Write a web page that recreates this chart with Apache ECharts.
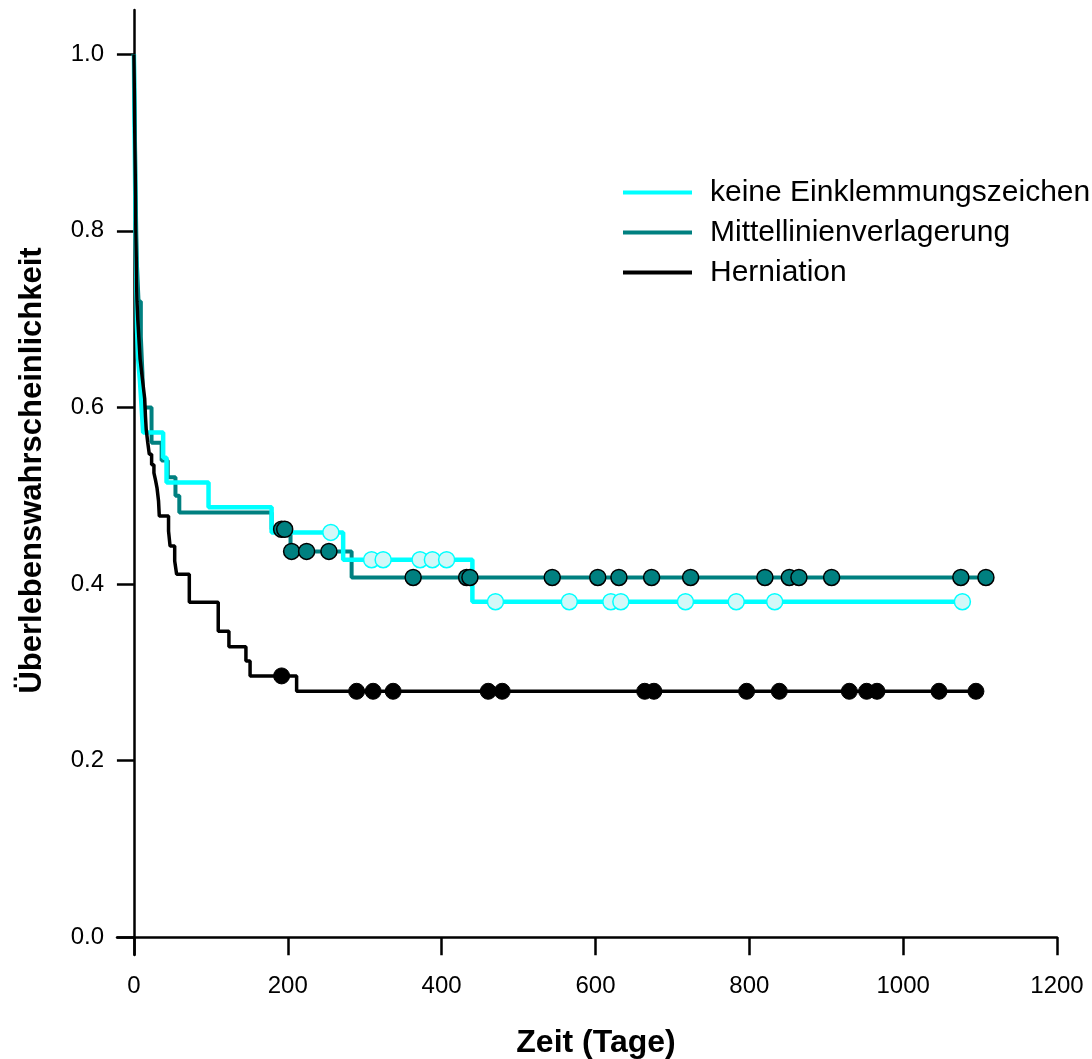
<!DOCTYPE html>
<html>
<head>
<meta charset="utf-8">
<script src="https://cdn.jsdelivr.net/npm/echarts@6/dist/echarts.min.js"></script>
<style>
html,body{margin:0;padding:0;background:#fff;}
#chart{width:1092px;height:1059px;}
</style>
</head>
<body>
<div id="chart"></div>
<script>
// ---- Data ----
var seriesNames = ['keine Einklemmungszeichen', 'Mittellinienverlagerung', 'Herniation'];

// keine Einklemmungszeichen (cyan) – Kaplan-Meier steps
var cyanTime = [0, 1, 2, 3, 4, 5.4, 7.8, 10, 12, 38, 42.4, 97, 179, 272, 440, 1077];
var cyanSurv = [1.0, 0.9, 0.82, 0.75, 0.69, 0.656, 0.63, 0.60, 0.5716, 0.543, 0.515, 0.487, 0.4585, 0.4276, 0.380, 0.380];
var cyanCensTime = [256, 309, 324, 372, 388, 406.5, 470, 566, 620, 633, 717, 783, 833, 1077];
var cyanCensSurv = [0.4585, 0.4276, 0.4276, 0.4276, 0.4276, 0.4276, 0.380, 0.380, 0.380, 0.380, 0.380, 0.380, 0.380, 0.380];

// Mittellinienverlagerung (teal)
var tealTime = [0, 1, 2, 3, 4, 6, 9, 11, 12, 22.9, 36, 44, 54, 59, 179, 203.6, 283, 1107.6];
var tealSurv = [1.0, 0.93, 0.86, 0.80, 0.76, 0.72, 0.68, 0.64, 0.60, 0.56, 0.54, 0.521, 0.50, 0.481, 0.462, 0.437, 0.4075, 0.4075];
var tealCensTime = [192, 196, 205, 224.5, 253.5, 363, 432.5, 436.8, 543.8, 603, 630.5, 673, 723.7, 820.3, 852, 864.5, 907, 1075, 1107.6];
var tealCensSurv = [0.462, 0.462, 0.437, 0.437, 0.437, 0.4075, 0.4075, 0.4075, 0.4075, 0.4075, 0.4075, 0.4075, 0.4075, 0.4075, 0.4075, 0.4075, 0.4075, 0.4075, 0.4075];

// Herniation (black)
var hernTime = [0, 0.5, 1, 1.5, 2, 2.5, 3, 3.5, 4, 5, 6, 7, 8, 10, 12, 14, 15, 16, 18, 20, 23, 26, 28, 30, 32, 33, 45, 47, 53, 55.5, 72, 109.6, 123.5, 145.6, 151, 211.5, 1095];
var hernSurv = [1.0, 0.96, 0.92, 0.88, 0.84, 0.80, 0.77, 0.74, 0.72, 0.70, 0.685, 0.67, 0.655, 0.64, 0.625, 0.61, 0.59, 0.575, 0.56, 0.547, 0.535, 0.526, 0.518, 0.509, 0.494, 0.477, 0.46, 0.443, 0.426, 0.411, 0.3795, 0.3465, 0.329, 0.313, 0.296, 0.2786, 0.2786];
var hernCensTime = [192, 289.5, 311, 337, 460.6, 478.8, 664, 676, 796.5, 839, 930, 952.5, 966, 1046.6, 1094.6];
var hernCensSurv = [0.296, 0.2786, 0.2786, 0.2786, 0.2786, 0.2786, 0.2786, 0.2786, 0.2786, 0.2786, 0.2786, 0.2786, 0.2786, 0.2786, 0.2786];

// Tick labels
var xTicks = [0, 200, 400, 600, 800, 1000, 1200];
var yTicks = [0, 0.2, 0.4, 0.6, 0.8, 1.0];
var xTitle = 'Zeit (Tage)';
var yTitle = 'Überlebenswahrscheinlichkeit';

function zip(a, b) { return a.map(function (v, i) { return [v, b[i]]; }); }

var FONT = '"Liberation Sans", Arial, Helvetica, sans-serif';
var chart = echarts.init(document.getElementById('chart'), null, { renderer: 'canvas' });

var option = {
  animation: false,
  backgroundColor: '#ffffff',
  textStyle: { fontFamily: FONT, color: '#000' },
  grid: { left: 117, right: 35, top: 10, bottom: 104, containLabel: false, outerBoundsMode: 'none' },
  xAxis: {
    type: 'value', min: -22, max: 1200,
    name: xTitle, nameLocation: 'middle', nameGap: 72,
    nameTextStyle: { fontFamily: FONT, fontSize: 32, fontWeight: 'bold', color: '#000', padding: [0, 0, 0, 18] },
    axisLine: { show: true, onZero: true, lineStyle: { color: '#000', width: 2.5 } },
    axisTick: { show: true, inside: false, length: 18, customValues: xTicks, lineStyle: { color: '#000', width: 2.5 } },
    axisLabel: { show: true, customValues: xTicks, margin: 19, fontSize: 24, color: '#000', fontFamily: FONT,
      formatter: function (v) { return String(Math.round(v)); } },
    splitLine: { show: false }
  },
  yAxis: {
    type: 'value', min: -0.02, max: 1.05,
    name: yTitle, nameLocation: 'middle', nameGap: 69, nameRotate: 90,
    nameTextStyle: { fontFamily: FONT, fontSize: 31, fontWeight: 'bold', color: '#000', padding: [0, 0, 0, 24] },
    axisLine: { show: true, onZero: true, lineStyle: { color: '#000', width: 2.5 } },
    axisTick: { show: true, inside: false, length: 17, customValues: yTicks, lineStyle: { color: '#000', width: 2.5 } },
    axisLabel: { show: true, customValues: yTicks, margin: 13, fontSize: 24, color: '#000', fontFamily: FONT,
      formatter: function (v) { return Number(v).toFixed(1); } },
    splitLine: { show: false }
  },
  legend: {
    show: true, orient: 'vertical', left: 623, top: 177, padding: 0,
    itemWidth: 69, itemHeight: 4, itemGap: 9, icon: 'rect',
    data: seriesNames,
    textStyle: { fontFamily: FONT, fontSize: 30, color: '#000', lineHeight: 31, padding: [0, 0, 0, 13] }
  },
  series: [
    { name: seriesNames[1], type: 'line', step: 'end', symbol: 'none', color: '#008080', z: 2,
      lineStyle: { color: '#008080', width: 4 }, data: zip(tealTime, tealSurv) },
    { name: seriesNames[0], type: 'line', step: 'end', symbol: 'none', color: '#00ffff', z: 3,
      lineStyle: { color: '#00ffff', width: 4.5 }, data: zip(cyanTime, cyanSurv) },
    { name: seriesNames[2], type: 'line', step: 'end', symbol: 'none', color: '#000000', z: 4,
      lineStyle: { color: '#000000', width: 3.5 }, data: zip(hernTime, hernSurv) },
    { name: 'cens-teal', type: 'scatter', symbol: 'circle', symbolSize: 16, z: 5,
      itemStyle: { color: '#008080', borderColor: '#000', borderWidth: 1.5, opacity: 1 }, data: zip(tealCensTime, tealCensSurv) },
    { name: 'cens-cyan', type: 'scatter', symbol: 'circle', symbolSize: 16, z: 5,
      itemStyle: { color: '#d2f8f8', borderColor: '#00ffff', borderWidth: 1.5, opacity: 1 }, data: zip(cyanCensTime, cyanCensSurv) },
    { name: 'cens-hern', type: 'scatter', symbol: 'circle', symbolSize: 16, z: 6,
      itemStyle: { color: '#000000', borderColor: '#000', borderWidth: 1, opacity: 1 }, data: zip(hernCensTime, hernCensSurv) }
  ]
};
chart.setOption(option);
</script>
</body>
</html>
